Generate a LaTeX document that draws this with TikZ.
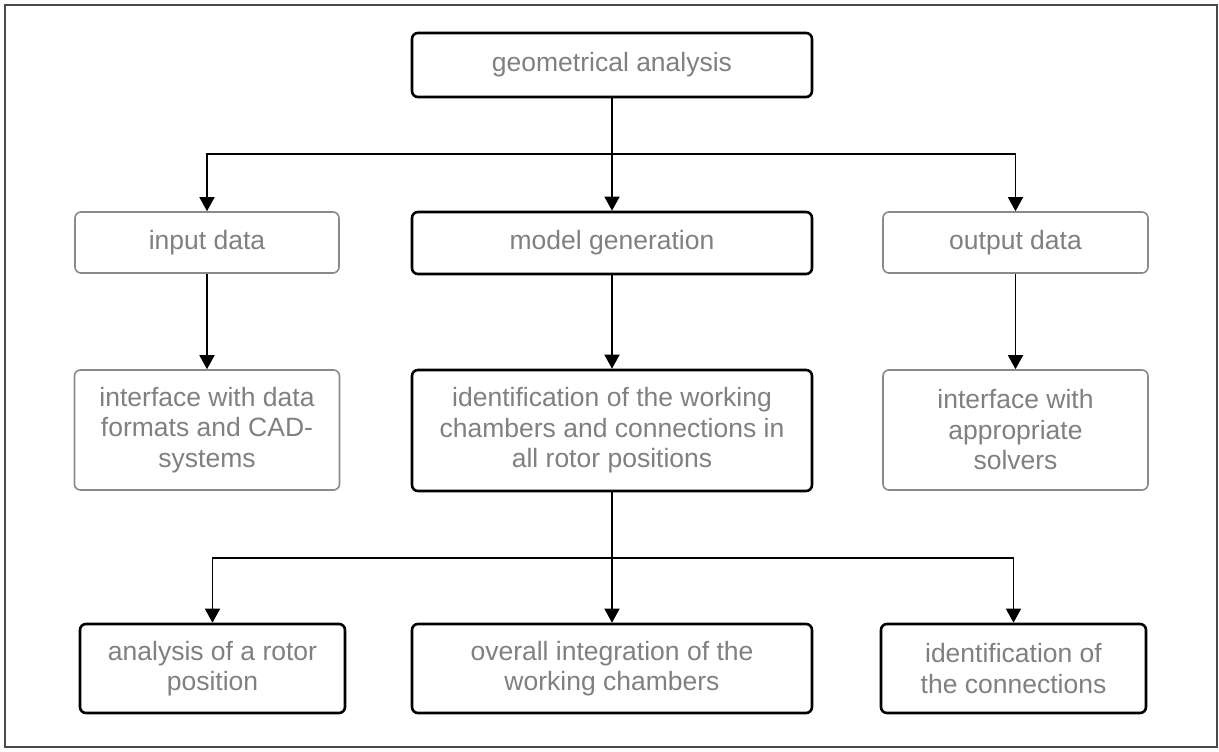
\documentclass[tikz,border=0pt]{standalone}
\usepackage{fontspec}
\setmainfont{Liberation Sans}
\usetikzlibrary{arrows.meta}
\definecolor{txtgray}{HTML}{808080}
\definecolor{boxgray}{HTML}{8A8A8A}
\definecolor{framegray}{HTML}{4A4A4A}
\begin{document}
\begin{tikzpicture}[x=1pt,y=-1pt,
  base/.style={rectangle,rounded corners=6pt,align=center,inner sep=0pt,
    text=txtgray,font=\fontsize{26.5}{30.5}\selectfont,fill=white},
  thickbox/.style={base,draw=black,line width=2.6pt},
  thinbox/.style={base,draw=boxgray,line width=1.6pt},
  arr/.style={draw=black,line width=1.5pt,-{Triangle[length=14pt,width=15pt]}},
  ln/.style={draw=black,line width=1.5pt}]
\useasboundingbox (0,0) rectangle (1219,752);
\draw[framegray,line width=2pt] (5,5) rectangle (1217,747);
% row 1
\node[thickbox,minimum width=400pt,minimum height=64pt] (geo) at (612,65) {geometrical analysis};
% row 2
\node[thinbox,minimum width=264pt,minimum height=61pt] (inp) at (207,242.5) {input data};
\node[thickbox,minimum width=400pt,minimum height=62pt] (mg) at (612,243) {model generation};
\node[thinbox,minimum width=265pt,minimum height=61pt] (outp) at (1015.5,242.5) {output data};
% row 3
\node[thinbox,minimum width=265pt,minimum height=120pt] (ifd) at (207,430) {interface with data\\formats and CAD-\\systems};
\node[thickbox,minimum width=400pt,minimum height=121pt] (idc) at (612,430.5) {identification of the working\\chambers and connections in\\all rotor positions};
\node[thinbox,minimum width=265pt,minimum height=120pt] (ifs) at (1015.5,430) {interface with\\appropriate\\solvers};
% row 4
\node[thickbox,minimum width=265pt,minimum height=89pt] (b1) at (212.5,668.5) {analysis of a rotor\\position};
\node[thickbox,minimum width=400pt,minimum height=89pt] (b2) at (612,668.5) {overall integration of the\\working chambers};
\node[thickbox,minimum width=265pt,minimum height=89pt] (b3) at (1013.5,668.5) {identification of\\the connections};
% connectors
\coordinate (j1) at (612,154);
\coordinate (j2) at (612,558);
\draw[arr] (geo.south) -- (mg.north);
\draw[arr] (j1) -| (inp.north);
\draw[arr] (j1) -| (outp.north);
\draw[arr] (inp.south) -- (ifd.north);
\draw[arr] (mg.south) -- (idc.north);
\draw[arr] (outp.south) -- (ifs.north);
\draw[arr] (idc.south) -- (b2.north);
\draw[arr] (j2) -| (b1.north);
\draw[arr] (j2) -| (b3.north);
\end{tikzpicture}
\end{document}
